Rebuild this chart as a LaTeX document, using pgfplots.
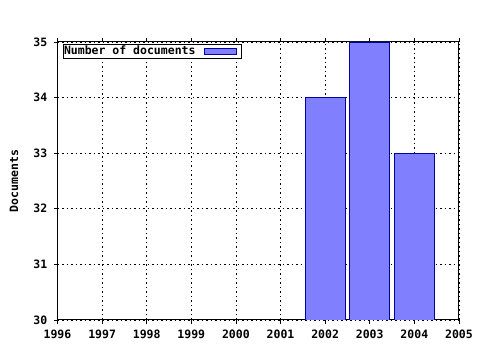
\documentclass[border=0pt]{standalone}
\usepackage{pgfplots}
\pgfplotsset{compat=1.18}
\usepackage{fontspec}
\setmainfont{DejaVu Sans Mono}
\definecolor{barfill}{HTML}{8080FF}
\definecolor{baredge}{HTML}{0000A0}
\begin{document}
\fontsize{11.5pt}{13pt}\selectfont\bfseries
\begin{tikzpicture}[x=1pt,y=1pt]
\useasboundingbox (0,0) rectangle (480,350);
\begin{axis}[
  at={(57.5pt,30pt)}, anchor=south west,
  scale only axis, width=401.5pt, height=278pt,
  xmin=1996, xmax=2005, ymin=30, ymax=35,
  xtick={1996,...,2005}, ytick={30,...,35},
  minor x tick num=3,
  xtick pos=both, ytick pos=left,
  tick align=outside,
  major tick length=4pt, minor tick length=2pt,
  every tick/.style={black, line width=0.8pt},
  axis line style={black, line width=1pt},
  grid=major,
  major grid style={black, line width=0.8pt, dash pattern=on 1.5pt off 3pt},
  /pgf/number format/assume math mode=true,
  xticklabel={\pgfmathprintnumber[1000 sep={}]{\tick}},
  xticklabel style={font=\fontsize{11.5pt}{13pt}\selectfont\bfseries, inner sep=0pt, yshift=-6pt},
  yticklabel style={font=\fontsize{11.5pt}{13pt}\selectfont\bfseries, inner sep=0pt, xshift=-6pt},
  ylabel={Documents},
  ylabel style={at={(axis description cs:-0.10834,0.5)}, anchor=center, font=\fontsize{11.5pt}{13pt}\selectfont\bfseries},
  legend plot pos=right,
  legend style={at={(axis description cs:0,1)}, anchor=north west, xshift=5.5pt, yshift=-2.5pt,
    draw=black, line width=0.8pt, inner sep=0pt, outer sep=0pt,
    font=\fontsize{11.5pt}{13pt}\selectfont\bfseries,
    nodes={inner xsep=1pt, inner ysep=1.5pt}, row sep=0pt, column sep=0pt},
  legend cell align=left,
]
\addplot[ybar, bar width=0.9, bar shift=0pt, fill=barfill, draw=baredge, line width=0.8pt,
  legend image code/.code={\path (0pt,0pt) (44pt,0pt);\draw[fill=barfill, draw=baredge, line width=0.8pt] (7pt,-3pt) rectangle (39pt,3pt);}]
  coordinates {(2002,34) (2003,35) (2004,33)};
\addlegendentry{Number of documents}
\end{axis}
\end{tikzpicture}
\end{document}
